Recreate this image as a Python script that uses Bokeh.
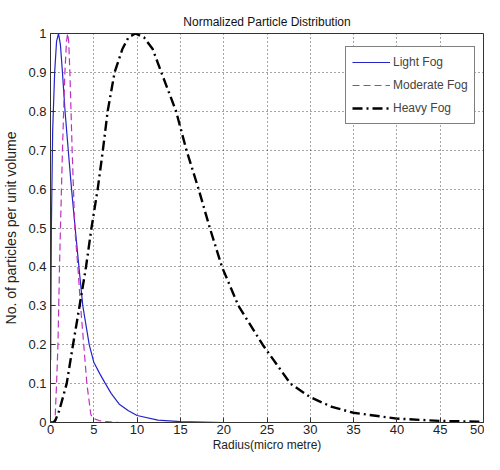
from bokeh.plotting import figure
from bokeh.models import FixedTicker, Range1d, Legend, LegendItem
from bokeh.embed import file_html
from bokeh.resources import INLINE

# ---- data ----
light_r = [0.02, 0.1, 0.25, 0.48, 0.7, 0.93, 1.15, 1.38, 1.68, 2.05, 2.43, 2.85, 3.28,
           3.73, 4.47, 5.0, 5.7, 6.34, 7.0, 7.94, 9.0, 10.0, 12.4, 15.0, 20.0, 30.0, 40.0, 50.0]
light_n = [0.16, 0.5, 0.75, 0.9, 0.98, 1.0, 0.97, 0.9, 0.8, 0.7, 0.6, 0.5, 0.4,
           0.3, 0.2, 0.155, 0.125, 0.1, 0.075, 0.047, 0.03, 0.018, 0.006, 0.002, 0.0, 0.0, 0.0, 0.0]

moderate_r = [0.0, 0.45, 0.55, 0.7, 0.86, 1.04, 1.15, 1.38, 1.66, 1.85, 1.98, 2.1, 2.24,
              2.5, 2.8, 3.16, 3.47, 3.84, 4.2, 4.66, 5.0, 5.6, 6.5, 8.0, 10.0, 20.0, 30.0, 40.0, 50.0]
moderate_n = [0.0, 0.0, 0.02, 0.1, 0.2, 0.4, 0.5, 0.7, 0.9, 0.98, 1.0, 0.98, 0.9,
              0.7, 0.5, 0.4, 0.3, 0.2, 0.1, 0.02, 0.01, 0.005, 0.002, 0.0, 0.0, 0.0, 0.0, 0.0, 0.0]

heavy_r = [0.0, 0.3, 0.55, 1.0, 1.87, 2.6, 3.36, 4.1, 4.73, 5.45, 6.05, 6.6, 7.4, 8.3, 9.0,
           9.8, 10.8, 11.8, 12.8, 14.5, 15.7, 17.1, 18.4, 19.8, 21.7, 24.5, 27.7, 30.0,
           32.5, 35.0, 40.0, 45.0, 50.0]
heavy_n = [0.0, 0.0, 0.005, 0.03, 0.1, 0.2, 0.3, 0.4, 0.5, 0.6, 0.7, 0.8, 0.9, 0.96, 0.99,
           1.0, 0.99, 0.96, 0.9, 0.8, 0.7, 0.6, 0.5, 0.4, 0.3, 0.2, 0.1, 0.065,
           0.04, 0.025, 0.01, 0.004, 0.002]

x_ticks = [0, 5, 10, 15, 20, 25, 30, 35, 40, 45, 50]
y_ticks = [0, 0.1, 0.2, 0.3, 0.4, 0.5, 0.6, 0.7, 0.8, 0.9, 1]
y_tick_labels = ["0", "0.1", "0.2", "0.3", "0.4", "0.5", "0.6", "0.7", "0.8", "0.9", "1"]

series_names = ["Light Fog", "Moderate Fog", "Heavy Fog"]

FONT = "Liberation Sans"

p = figure(width=484, height=454, output_backend="svg", toolbar_location=None,
           x_range=Range1d(0, 50), y_range=Range1d(0, 1),
           min_border_left=49, min_border_right=1, min_border_top=33, min_border_bottom=32,
           title="Normalized Particle Distribution")

p.title.align = "center"
p.title.text_font = FONT
p.title.text_font_size = "12px"
p.title.text_font_style = "normal"
p.title.text_color = "#111111"
p.title.standoff = 10

p.xaxis.ticker = FixedTicker(ticks=x_ticks)
p.yaxis.ticker = FixedTicker(ticks=y_ticks)
p.yaxis.major_label_overrides = {t: l for t, l in zip(y_ticks, y_tick_labels)}
p.xaxis.major_label_overrides = {t: str(t) for t in x_ticks}

for ax in (p.xaxis[0], p.yaxis[0]):
    ax.major_tick_in = 5
    ax.major_tick_out = 0
    ax.minor_tick_line_color = None
    ax.axis_line_color = "#333333"
    ax.major_tick_line_color = "#333333"
    ax.major_label_text_font = FONT
    ax.major_label_text_font_size = "13px"
    ax.major_label_text_color = "#222222"
    ax.axis_label_text_font = FONT
    ax.axis_label_text_font_style = "normal"
    ax.axis_label_text_color = "#222222"

p.xaxis.major_label_standoff = 2
p.yaxis.major_label_standoff = 4
p.xaxis.axis_label = "Radius(micro metre)"
p.xaxis.axis_label_text_font_size = "12px"
p.xaxis.axis_label_standoff = 1
p.yaxis.axis_label = "No. of particles per unit volume"
p.yaxis.axis_label_text_font_size = "14px"
p.yaxis.axis_label_standoff = 6

p.grid.grid_line_color = "#222222"
p.grid.grid_line_dash = "1 3"
p.grid.grid_line_alpha = 0.8
p.outline_line_color = "#333333"
p.outline_line_alpha = 1.0

r1 = p.line(light_r, light_n, line_color="#2424c8", line_width=1.2)
r2 = p.line(moderate_r, moderate_n, line_color="#c030c0", line_width=1.2, line_dash="7 4")
r3 = p.line(heavy_r, heavy_n, line_color="black", line_width=2.4, line_dash="10 4 2 4")

legend = Legend(items=[LegendItem(label=series_names[0], renderers=[r1]),
                       LegendItem(label=series_names[1], renderers=[r2]),
                       LegendItem(label=series_names[2], renderers=[r3])],
                location=(295, 298), glyph_width=38, glyph_height=18, label_height=18,
                spacing=5, padding=6, margin=0, label_standoff=3,
                border_line_color="black", border_line_width=1,
                background_fill_color="white", background_fill_alpha=1.0,
                label_text_font=FONT, label_text_font_size="12px")
p.add_layout(legend)

open("out.html", "w").write(file_html(p, INLINE))
